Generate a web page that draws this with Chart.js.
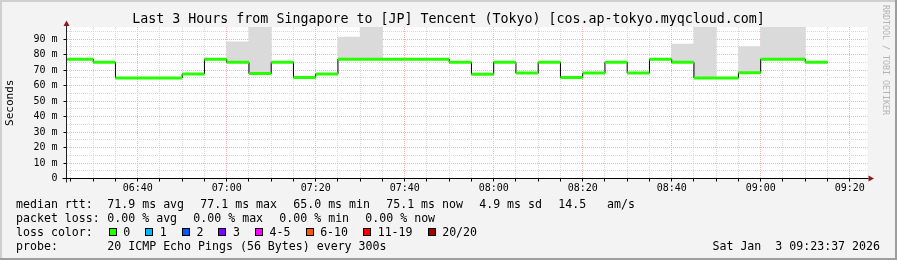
<!DOCTYPE html>
<html>
<head>
<meta charset="utf-8">
<script src="https://cdn.jsdelivr.net/npm/chart.js@4.4.1/dist/chart.umd.min.js"></script>
<style>
  html, body { margin: 0; padding: 0; background: #f3f3f3; }
  #wrap { position: relative; width: 897px; height: 260px; overflow: hidden;
          font-family: 'DejaVu Sans Mono', monospace; color: #000; }
  #chart { position: absolute; left: 0; top: 0; }
  .title { position: absolute; left: 0; width: 897px; text-align: center; top: 11px;
           font-size: 13.3px; line-height: 16px; white-space: pre; }
  .row { position: absolute; left: 16px; font-size: 11.6px; line-height: 14px; white-space: pre; display: flex; align-items: center; }
  .row .lab { width: 91.3px; }
  .row .item { margin-right: 16.2px; }
  .sq { display: inline-block; width: 6px; height: 6px; border: 1px solid #000; margin-right: 6.6px; }
  .litem { display: inline-flex; align-items: center; margin-right: 15px; }
  .date { position: absolute; right: 17px; top: 239px; font-size: 11.6px; line-height: 14px; white-space: pre; }
  .rrd { position: absolute; left: 881px; top: 5px; font-size: 8.3px; line-height: 10px; color: #b4b4b4;
         writing-mode: vertical-rl; white-space: pre; }
</style>
</head>
<body>
<div id="wrap">
  <canvas id="chart" width="897" height="260"></canvas>
  <div class="title" id="title"></div>
  <div class="row" id="r1" style="top:197.3px"></div>
  <div class="row" id="r2" style="top:211px"></div>
  <div class="row" id="r3" style="top:225px"></div>
  <div class="row" id="r4" style="top:238.7px"></div>
  <div class="date" id="date"></div>
  <div class="rrd">RRDTOOL / TOBI OETIKER</div>
</div>
<script>
// ---------------- data ----------------
const titleText = 'Last 3 Hours from Singapore to [JP] Tencent (Tokyo) [cos.ap-tokyo.myqcloud.com]';
const yAxisTitle = 'Seconds';

// 5-minute slots (start time) and median RTT in ms
const slotStarts = ['06:20','06:25','06:30','06:35','06:40','06:45','06:50','06:55',
                    '07:00','07:05','07:10','07:15','07:20','07:25','07:30','07:35',
                    '07:40','07:45','07:50','07:55','08:00','08:05','08:10','08:15',
                    '08:20','08:25','08:30','08:35','08:40','08:45','08:50','08:55',
                    '09:00','09:05','09:10'];
const medianRtt = [77.1, 77.1, 75.1, 65.0, 65.0, 65.0, 67.6, 77.1,
                   75.1, 67.8, 75.1, 65.2, 67.5, 77.1, 77.1, 77.1,
                   77.1, 77.1, 75.1, 67.4, 75.1, 68.1, 75.1, 65.2,
                   68.1, 75.1, 68.1, 77.1, 75.1, 65.0, 65.0, 68.3,
                   77.1, 77.1, 75.1];

// smoke (ping spread) slots
const smokeSlots = ['07:00','07:05','07:25','07:30','08:40','08:45','08:55','09:00','09:05'];
const smokeLow   = [75.1, 69.0, 77.1, 77.1, 75.1, 65.0, 68.3, 77.1, 77.1];
const smokeHigh  = [88.3, 100, 91.4, 100, 86.8, 100, 85.1, 100, 100];

const xTickLabels = ['06:40','07:00','07:20','07:40','08:00','08:20','08:40','09:00','09:20'];
const yTickLabels = ['0','10 m','20 m','30 m','40 m','50 m','60 m','70 m','80 m','90 m'];

const rangeStart = '06:24';
const rangeEnd = '09:24';

const rttStats  = ['71.9 ms avg','77.1 ms max','65.0 ms min','75.1 ms now','4.9 ms sd','14.5   am/s'];
const lossStats = ['0.00 % avg','0.00 % max','0.00 % min','0.00 % now'];
const lossLabels = ['0','1','2','3','4-5','6-10','11-19','20/20'];
const lossColors = ['#26ff00','#00b8ff','#0059ff','#7e00ff','#ff00ff','#ff5500','#ff0000','#a10000'];
const probeText = '20 ICMP Echo Pings (56 Bytes) every 300s';
const dateText = 'Sat Jan  3 09:23:37 2026';

// ---------------- helpers ----------------
const toMin = s => { const [h, m] = s.split(':').map(Number); return h * 60 + m; };
const fmt = m => String(Math.floor(m / 60)).padStart(2, '0') + ':' + String(m % 60).padStart(2, '0');
const SLOT = 5;

const greenPts = [];
slotStarts.forEach((s, i) => {
  const a = toMin(s);
  greenPts.push({x: a, y: medianRtt[i]}, {x: a + SLOT, y: medianRtt[i]}, {x: a + SLOT, y: null});
});
const stepPts = slotStarts.map((s, i) => ({x: toMin(s), y: medianRtt[i]}));
stepPts.push({x: toMin(slotStarts[slotStarts.length - 1]) + SLOT, y: medianRtt[medianRtt.length - 1]});
const smokePts = smokeSlots.map((s, i) => ({x: toMin(s) + SLOT / 2, y: [smokeLow[i], smokeHigh[i]]}));

const MAJOR = '#f0b4b4', MINOR = '#d8d8d8';

const framePlugin = {
  id: 'framePlugin',
  beforeDraw(chart) {
    const {ctx, chartArea: a, width, height} = chart;
    ctx.save();
    ctx.fillStyle = '#f3f3f3'; ctx.fillRect(0, 0, width, height);
    ctx.fillStyle = '#ffffff'; ctx.fillRect(a.left, a.top, a.right - a.left, a.bottom - a.top);
    ctx.fillStyle = '#cfcfcf'; ctx.fillRect(0, 0, width, 2); ctx.fillRect(0, 0, 2, height);
    ctx.fillStyle = '#9e9e9e'; ctx.fillRect(0, height - 2, width, 2); ctx.fillRect(width - 2, 0, 2, height);
    ctx.restore();
  },
  afterDraw(chart) {
    const {ctx, chartArea: a} = chart;
    const x0 = Math.floor(a.left) + 0.5, y0 = Math.floor(a.bottom) + 0.5;
    ctx.save();
    ctx.lineWidth = 1;
    ctx.strokeStyle = '#222';
    ctx.beginPath(); ctx.moveTo(x0, a.top - 2); ctx.lineTo(x0, y0 + 4); ctx.stroke();
    ctx.strokeStyle = '#000';
    ctx.beginPath(); ctx.moveTo(x0 - 4, y0); ctx.lineTo(a.right + 1, y0); ctx.stroke();
    ctx.fillStyle = '#8e1b1b';
    ctx.beginPath(); ctx.moveTo(x0, a.top - 6.5); ctx.lineTo(x0 - 3, a.top - 1); ctx.lineTo(x0 + 3, a.top - 1); ctx.closePath(); ctx.fill();
    ctx.beginPath(); ctx.moveTo(a.right + 6.5, y0); ctx.lineTo(a.right + 1, y0 - 3); ctx.lineTo(a.right + 1, y0 + 3); ctx.closePath(); ctx.fill();
    ctx.restore();
  }
};

new Chart(document.getElementById('chart'), {
  data: {
    datasets: [
      { type: 'bar', data: smokePts, backgroundColor: '#dadada', borderWidth: 0,
        barPercentage: 1.0, categoryPercentage: 1.0, order: 3, clip: 0 },
      { type: 'line', data: stepPts, stepped: 'before', borderColor: '#000', borderWidth: 1,
        pointRadius: 0, fill: false, order: 2, clip: 0 },
      { type: 'line', data: greenPts, borderColor: '#26ff00', borderWidth: 3, borderCapStyle: 'butt',
        pointRadius: 0, fill: false, spanGaps: false, order: 1, clip: 0 }
    ]
  },
  options: {
    responsive: false, animation: false, devicePixelRatio: 1,
    layout: { padding: { left: 0, top: 27, right: 29.5, bottom: 0 } },
    plugins: { legend: { display: false }, tooltip: { enabled: false }, title: { display: false } },
    scales: {
      x: {
        type: 'linear', min: toMin(rangeStart), max: toMin(rangeEnd), offset: false,
        afterBuildTicks: sc => {
          const t = [];
          for (let m = toMin(rangeStart) + 1; m <= toMin(rangeEnd); m += SLOT) t.push({value: m});
          sc.ticks = t;
        },
        afterFit: sc => { sc.height = 81.5; },
        ticks: {
          autoSkip: false, maxRotation: 0, padding: 1, color: '#000',
          font: { family: 'DejaVu Sans Mono', size: 10 },
          callback: v => { const l = fmt(v); return xTickLabels.includes(l) ? l : ''; }
        },
        grid: {
          offset: false,
          color: c => (c.tick && c.tick.value % 20 === 0) ? MAJOR : MINOR,
          tickColor: '#000', tickLength: 3, lineWidth: 1
        },
        border: { display: true, color: '#000', width: 1, dash: [1, 1] }
      },
      y: {
        type: 'linear', min: 0, max: 97.9,
        afterBuildTicks: sc => {
          const t = [];
          for (let v = 0; v <= 95; v += 5) t.push({value: v});
          sc.ticks = t;
        },
        afterFit: sc => { sc.width = 66.5; },
        ticks: {
          autoSkip: false, padding: 6, color: '#000',
          font: { family: 'DejaVu Sans Mono', size: 10 },
          callback: v => (v % 10 === 0 ? yTickLabels[v / 10] : '')
        },
        grid: {
          color: c => (c.tick && c.tick.value % 10 === 0) ? MAJOR : MINOR,
          tickColor: c => (c.tick && c.tick.value % 10 === 0) ? '#000' : 'rgba(0,0,0,0)',
          tickLength: 3, lineWidth: 1
        },
        border: { display: true, color: '#222', width: 1, dash: [1, 1] },
        title: { display: true, text: yAxisTitle, color: '#000',
                 font: { family: 'DejaVu Sans Mono', size: 11 }, padding: { top: 4, bottom: 4 } }
      }
    }
  },
  plugins: [framePlugin]
});

// ---------------- text rows ----------------
document.getElementById('title').textContent = titleText;
function row(id, label, items) {
  const r = document.getElementById(id);
  const l = document.createElement('span'); l.className = 'lab'; l.textContent = label; r.appendChild(l);
  items.forEach(t => { const s = document.createElement('span'); s.className = 'item'; s.textContent = t; r.appendChild(s); });
}
row('r1', 'median rtt:', rttStats);
row('r2', 'packet loss:', lossStats);
(function () {
  const r = document.getElementById('r3');
  const l = document.createElement('span'); l.className = 'lab'; l.textContent = 'loss color:'; r.appendChild(l);
  lossLabels.forEach((t, i) => {
    const w = document.createElement('span'); w.className = 'litem';
    const q = document.createElement('span'); q.className = 'sq'; q.style.background = lossColors[i];
    const s = document.createElement('span'); s.textContent = t;
    w.appendChild(q); w.appendChild(s); r.appendChild(w);
  });
  r.querySelector('.lab').style.width = '92.7px';
})();
row('r4', 'probe:', [probeText]);
document.getElementById('date').textContent = dateText;
</script>
</body>
</html>
